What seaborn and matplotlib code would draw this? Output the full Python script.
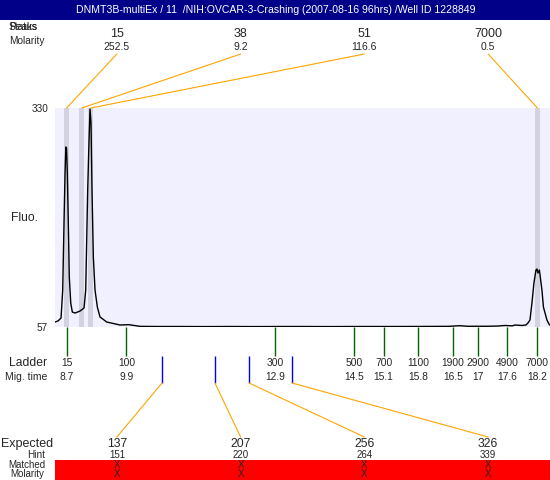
import numpy as np
import pandas as pd
import matplotlib
matplotlib.use("Agg")
import matplotlib.pyplot as plt
import matplotlib.transforms as mtransforms
from matplotlib.patches import ConnectionPatch, Rectangle
import seaborn as sns

# electropherogram trace: migration time (s), fluorescence
trace_time = [8.457, 8.518, 8.579, 8.613, 8.639, 8.660, 8.676, 8.690, 8.706, 8.726,
              8.746, 8.775, 8.807, 8.862, 8.963, 9.044, 9.078, 9.098, 9.118, 9.145,
              9.165, 9.185, 9.205, 9.232, 9.266, 9.313, 9.367, 9.503, 9.771, 9.95,
              10.176, 10.5, 11.0, 11.5, 12.0, 12.5, 13.0, 13.5, 14.0, 14.5,
              15.0, 15.5, 16.0, 16.4, 16.64, 16.8, 17.2, 17.41, 17.554, 17.70,
              17.756, 17.897, 17.978, 18.018, 18.059, 18.099, 18.139, 18.180, 18.200, 18.220,
              18.250, 18.301, 18.331, 18.402, 18.453]
trace_fluo = [63.2, 64.5, 68.2, 103.1, 186.6, 249.0, 281.4, 280.1, 249.0, 186.6,
              119.3, 86.9, 75.7, 74.4, 76.9, 80.7, 103.1, 165.4, 227.8, 290.1,
              328.8, 311.3, 227.8, 144.3, 103.1, 81.9, 69.5, 63.2, 59.5, 59.9,
              57.8, 57.6, 57.6, 57.5, 57.6, 57.5, 57.6, 57.6, 57.5, 57.6,
              57.6, 57.6, 57.7, 57.8, 58.6, 57.9, 57.9, 58.2, 58.9, 58.4,
              59.5, 58.9, 59.5, 62.0, 65.7, 86.9, 111.8, 128.0, 129.3, 124.3,
              128.0, 103.1, 81.9, 65.7, 59.5]

ladder_size = [15, 100, 300, 500, 700, 1100, 1900, 2900, 4900, 7000]
ladder_time = [8.7, 9.9, 12.9, 14.5, 15.1, 15.8, 16.5, 17.0, 17.6, 18.2]

peak_size = [15, 38, 51, 7000]
peak_molarity = [252.5, 9.2, 116.6, 0.5]
peak_time = [8.69, 9.0, 9.18, 18.21]

expected_size = [137, 207, 256, 326]
expected_hint = [151, 220, 264, 339]
expected_time = [10.62, 11.69, 12.38, 13.25]

fluo_min, fluo_max = 57, 330
time_min, time_max = 8.457, 18.464

title = "DNMT3B-multiEx / 11  /NIH:OVCAR-3-Crashing (2007-08-16 96hrs) /Well ID 1228849"

sns.set_theme(style="white")
plt.rcParams["font.family"] = ["Liberation Sans", "DejaVu Sans"]

W, H = 550, 480
fig = plt.figure(figsize=(5.5, 4.8), dpi=100)
fig.patch.set_facecolor("white")


def fx(px):
    return px / W


def fy(py):
    return 1 - py / H


# title bar
fig.add_artist(Rectangle((0, fy(20)), 1, 20 / H, transform=fig.transFigure,
                         facecolor="#000088", edgecolor="none"))
fig.text(fx(276), fy(10), title, color="white", fontsize=7.6, ha="center", va="center")

# main electropherogram
ax = fig.add_axes([fx(55), fy(327), fx(550) - fx(55), fy(108) - fy(327)])
ax.set_facecolor("#F0F0FF")
for t in peak_time:
    ax.axvspan(t - 0.05, t + 0.05, color="#D2D2E0", lw=0)
df = pd.DataFrame({"time": trace_time, "fluo": trace_fluo})
sns.lineplot(data=df, x="time", y="fluo", ax=ax, color="black", lw=1.0,
             sort=False, estimator=None)

below = mtransforms.blended_transform_factory(ax.transData, fig.transFigure)
cols = mtransforms.blended_transform_factory(ax.transAxes, fig.transFigure)

# ladder ticks and labels
ax.vlines(ladder_time, fy(356), fy(327), colors="#006400", lw=1,
          transform=below, clip_on=False)
for s, t in zip(ladder_size, ladder_time):
    ax.text(t, fy(363), str(s), transform=below, ha="center", va="center", fontsize=7.4)
    ax.text(t, fy(377), f"{t:g}", transform=below, ha="center", va="center", fontsize=7.4)

# expected fragments
ax.vlines(expected_time, fy(383), fy(356), colors="blue", lw=1,
          transform=below, clip_on=False)
for k, (s, h, t) in enumerate(zip(expected_size, expected_hint, expected_time)):
    c = (k + 0.5) / len(expected_size)
    fig.add_artist(ConnectionPatch(xyA=(t, fy(383)), coordsA=below,
                                   xyB=(c, fy(437)), coordsB=cols,
                                   color="orange", lw=0.8))
    ax.text(c, fy(444), str(s), transform=cols, ha="center", va="center", fontsize=8.7)
    ax.text(c, fy(454.5), str(h), transform=cols, ha="center", va="center", fontsize=7)

# detected peaks on top
for k, (s, m, t) in enumerate(zip(peak_size, peak_molarity, peak_time)):
    c = (k + 0.5) / len(peak_size)
    fig.add_artist(ConnectionPatch(xyA=(c, fy(54)), coordsA=cols,
                                   xyB=(t, fy(108)), coordsB=below,
                                   color="orange", lw=0.8))
    ax.text(c, fy(34), str(s), transform=cols, ha="center", va="center", fontsize=9)
    ax.text(c, fy(47), f"{m:g}", transform=cols, ha="center", va="center", fontsize=7.5)

ax.set_xlim(time_min, time_max)
ax.set_ylim(fluo_min, fluo_max)
ax.set_xticks([])
ax.set_yticks([fluo_min, fluo_max])
ax.tick_params(axis="y", length=0, pad=5, labelsize=7.2)
ax.set_xlabel("")
ax.set_ylabel("")
for sp in ax.spines.values():
    sp.set_visible(False)

# row captions
fig.text(fx(9), fy(27), "Peaks", fontsize=7.3, ha="left", va="center")
fig.text(fx(9), fy(27), "Status", fontsize=7.3, ha="left", va="center")
fig.text(fx(27), fy(41), "Molarity", fontsize=7.3, ha="center", va="center")
fig.text(fx(25), fy(218), "Fluo.", fontsize=8.7, ha="center", va="center")
fig.text(fx(47), fy(363), "Ladder", fontsize=8.7, ha="right", va="center")
fig.text(fx(47), fy(377), "Mig. time", fontsize=7.5, ha="right", va="center")
fig.text(fx(53), fy(444), "Expected", fontsize=9, ha="right", va="center")
fig.text(fx(36), fy(454.5), "Hint", fontsize=7.2, ha="center", va="center")
fig.text(fx(27), fy(464.8), "Matched", fontsize=7, ha="center", va="center")
fig.text(fx(27), fy(474), "Molarity", fontsize=7, ha="center", va="center")

# matched / molarity strip
tab = fig.add_axes([fx(55), 0, fx(550) - fx(55), 20 / H])
tab.set_facecolor("red")
tab.set_xticks([])
tab.set_yticks([])
for sp in tab.spines.values():
    sp.set_visible(False)
tab_rows = mtransforms.blended_transform_factory(tab.transAxes, fig.transFigure)
for k in range(len(expected_size)):
    c = (k + 0.5) / len(expected_size)
    tab.text(c, fy(464.8), "X", transform=tab_rows, ha="center", va="center", fontsize=7)
    tab.text(c, fy(474), "X", transform=tab_rows, ha="center", va="center", fontsize=7)

fig.savefig("out.png", dpi=100)
